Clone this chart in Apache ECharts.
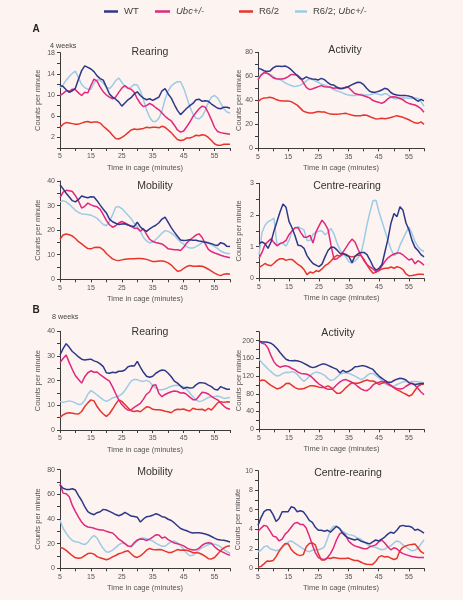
<!DOCTYPE html>
<html>
<head>
<meta charset="utf-8">
<script src="https://cdn.jsdelivr.net/npm/echarts@6/dist/echarts.min.js"></script>
<style>
html,body{margin:0;padding:0;background:#fdf3f0;}
#chart{width:463px;height:600px;}
</style>
</head>
<body>
<div id="chart"></div>
<script>
// ---- data ----
const minutes = [5,6,7,8,9,10,11,12,13,14,15,16,17,18,19,20,21,22,23,24,25,26,27,28,29,30,31,32,33,34,35,36,37,38,39,40,41,42,43,44,45,46,47,48,49,50,51,52,53,54,55,56,57,58,59,60];
const seriesNames = ['WT', 'Ubc+/-', 'R6/2', 'R6/2; Ubc+/-'];
const xTickLabels = [5, 15, 25, 35, 45, 55];

// A (4 weeks) - Rearing
const aRearingWT = [11.8,11.6,11.0,10.5,10.8,11.3,13.0,14.6,15.5,15.2, 14.9,14.4,13.6,13.1,12.8,11.5,10.2,9.6,9.2,8.7, 7.9,8.5,9.1,9.5,10.2,10.6,9.9,9.4,9.1,9.3, 9.0,9.3,9.6,10.8,11.2,10.2,9.4,8.2,7.1,6.3, 6.9,7.5,8.0,8.4,9.1,9.2,8.8,8.9,8.8,8.3, 7.9,7.5,7.4,7.7,7.7,7.5];
const aRearingUbc = [9.9,10.3,10.8,10.7,11.1,11.0,10.4,9.9,10.5,10.4, 11.8,13.0,12.6,11.5,10.6,10.0,9.6,9.3,9.6,10.5, 11.3,11.8,11.3,11.1,10.5,9.3,8.4,7.8,8.0,8.4, 8.1,7.6,7.2,6.6,6.0,5.5,5.1,4.3,3.4,3.0, 3.2,4.0,4.9,5.9,6.7,7.4,7.9,7.7,6.6,5.3, 3.9,3.1,2.9,2.8,2.7,2.6];
const aRearingR62 = [3.9,4.5,4.8,4.7,4.6,4.5,4.5,4.7,4.9,5.0, 4.8,4.9,4.9,4.7,4.1,3.6,3.1,2.4,1.8,1.7, 2.0,2.4,2.9,3.4,3.6,3.5,3.6,3.7,3.9,3.8, 3.9,3.9,3.8,4.1,3.9,3.4,2.9,2.2,1.6,1.4, 1.5,1.9,1.9,2.1,2.4,2.3,2.5,2.4,2.0,1.4, 0.8,0.5,0.5,0.7,0.7,0.7];
const aRearingR62Ubc = [11.4,11.9,12.8,13.5,14.1,14.5,13.2,12.0,11.4,11.1, 11.1,12.2,12.9,12.8,12.2,11.5,11.2,11.8,12.7,13.2, 12.4,11.6,11.2,11.5,12.0,11.9,10.8,9.1,7.2,5.8, 5.0,5.0,5.6,7.0,9.2,10.8,11.7,12.2,12.5,12.5, 11.3,9.6,7.8,6.4,5.6,5.5,6.0,7.1,8.6,9.6, 9.9,9.4,8.4,7.4,6.8,6.6];

// A - Activity
const aActivityWT = [66.7,66,64.6,64,64.5,67,68.4,68.4,68.2,68.6, 67.4,65.5,63,60.4,58,57.8,59.5,58.5,57.8,57.5, 57,58.3,57.2,55,53.2,52.8,51.2,50,50,50.5, 51.5,52.8,54,55,54.8,53,50,47.5,46.7,46.8, 47.5,48.6,50,49.2,46.5,45,44.4,44,43.9,43.9, 43.5,42.8,41,39.2,40.8,39.5];
const aActivityUbc = [57,61,63.2,62.6,61,58.8,57.9,57.8,57.8,58.4, 59.7,61.6,61.2,61,59,55,50.8,49,49.5,50.5, 51.4,52.2,51.3,51.1,51,50,50.4,49.6,49.6,51, 50.6,48.2,45.6,45,44.5,43.8,43,42,40,39, 38.3,37.5,38.8,41.2,42.8,43,42.5,41.5,40.5,38.5, 37.4,36.7,36.1,34.8,33,30];
const aActivityR62 = [38.9,41,42,42.2,42.6,42,40.6,39.8,39.4,39.4, 39.4,38.9,37.5,36,33.5,31,30,29.4,29.5,30.1, 30.6,30.2,30.2,29.3,28.5,28.3,28.3,28.5,28.9,29.2, 28.5,27.8,27.2,27.2,27.2,27.8,27.5,26.5,25.4,24.5, 24.6,25,24.6,25,25.6,26.4,27.2,26.5,25.8,24.8, 23.8,22.4,21.2,20.8,22,20];
const aActivityR62Ubc = [58,61,62.5,62.5,61.5,60,58.2,57.4,56.3,54.5, 53.3,52.3,51.4,52,52.6,53.8,56.2,58,57.5,56, 55,53.3,52.8,51.8,50.5,49,48,47.2,46.2,45, 44.5,44,43.9,44.2,45,44.6,44.4,44.6,45.2,45.8, 45,44.4,45.6,44.8,42.8,41.5,41.3,42,42.2,42, 41.7,41.7,42,41.6,39,35];

// A - Mobility
const aMobilityWT = [38.5,36.8,35,33.5,32,31.5,32.5,33.9,33.5,33.2, 33.6,33.5,32,30.2,28.5,27,24.5,23.4,22.8,22.3, 22.5,22.6,22.1,21.7,21.5,23.2,21.3,20.2,19.5,20.5, 21.3,22,23,24.5,25.3,23.2,21,19.2,17.5,16, 15.8,15.9,16.1,15.9,15.9,15.6,15.4,15.1,14.8,14.5, 14,13.8,14.9,14.5,13.4,13.3];
const aMobilityUbc = [33.2,35.5,36.2,36,35.7,34,31.8,29,29.7,31, 30.3,29.8,29.5,28.5,26.3,24,22.2,21.2,21.8,22.9, 23.5,22.9,22.2,21.5,20.8,20.8,19.6,20.6,18.3,16.3, 15.4,15,14.7,14.4,13.5,12.4,12.2,12,12,11.7, 13,14.8,16,17,18,18.5,17,14.4,12.2,11.3, 10.7,10.3,9.8,9.4,9.1,8.8];
const aMobilityR62 = [16.3,18,18.4,18.1,17.6,16.6,15.3,14.4,13.4,12.5, 12.4,12.9,13,12.9,12,10.5,9.4,8.3,7.8,7.6, 7.9,8.2,8.3,8.4,8.4,8.5,8.5,8.4,8.1,7.7, 7.2,7.2,7.4,7.4,7.2,6.7,5.8,4.5,3.3,3.5, 4.4,5.2,5.6,5.3,5.3,5.4,5.3,4.8,4.1,3.3, 2.5,1.9,1.5,2.1,2.3,2.1];
const aMobilityR62Ubc = [31.5,32,31.5,30.5,29.3,28,27.2,26.6,26.5,26.4, 26.1,25.5,24.8,23.5,22.3,21.8,23.6,26.2,29.3,29.6, 28.8,27.5,26.1,24.7,22.8,21.5,19.6,17,15.6,14.8, 15.3,16.2,17.4,18.8,19.8,19.5,18.8,17.9,16.5,15.2, 14.3,13.3,12.7,12.7,13.3,14,15,15.4,15.1,14, 13.3,12.5,11.5,10.9,10.5,10.5];

// A - Centre-rearing
const aCentreWT = [1.1,1.15,1.1,0.95,1.15,1.5,1.8,2.1,2.35,2.25, 1.8,1.6,1.35,1.05,1.03,0.95,0.72,0.58,0.47,0.42, 0.37,0.45,0.68,0.88,0.98,0.98,0.9,0.79,0.79,0.74, 0.69,0.5,0.7,0.78,0.82,0.82,0.75,0.58,0.38,0.26, 0.32,0.44,0.85,1.25,1.75,2.05,1.95,2.26,2.15,1.75, 1.53,1.2,0.98,0.88,0.75,0.68];
const aCentreUbc = [0.63,0.82,1.07,1.16,1.25,1.13,1.03,1.1,1.13,1.2, 1.38,1.5,1.6,1.6,1.44,1.3,1.3,1.36,1.12,1.47, 1.66,1.84,1.72,1.55,1.05,0.6,0.62,0.7,0.83,0.97, 1.12,1.24,1.15,0.92,0.73,0.56,0.44,0.36,0.3,0.21, 0.26,0.4,0.54,0.65,0.72,0.77,0.8,0.8,0.74,0.66, 0.58,0.62,0.46,0.56,0.5,0.42];
const aCentreR62 = [0.34,0.4,0.47,0.42,0.4,0.48,0.57,0.62,0.62,0.57, 0.6,0.6,0.52,0.44,0.38,0.28,0.12,0.2,0.17,0.24, 0.22,0.3,0.4,0.46,0.55,0.66,0.73,0.7,0.76,0.76, 0.7,0.68,0.7,0.74,0.72,0.6,0.42,0.28,0.16,0.2, 0.25,0.3,0.32,0.32,0.36,0.32,0.37,0.34,0.28,0.14, 0.08,0.09,0.11,0.13,0.13,0.12];
const aCentreR62Ubc = [0.74,1.45,1.68,1.79,1.84,1.9,1.05,1.1,1.1,1.02, 1.2,1.5,1.6,1.63,1.58,1.53,1.2,1.2,1.4,1.45, 1.5,1.5,1.38,1.45,1.58,1.4,1.12,0.9,0.78,0.68, 0.52,0.48,0.55,0.65,0.79,1.2,1.7,2.1,2.45,2.47, 2.1,1.8,1.5,1.2,0.92,0.72,0.78,1.05,1.25,1.45, 1.62,1.42,1.16,1.0,0.9,0.85];

// B (8 weeks) - Rearing
const bRearingWT = [30.4,33,35,33.5,31.8,30.8,29.6,28.7,28.4,28.6, 28.7,28,27.6,26.8,25.7,23.2,23,23.4,23.2,23.8, 23.8,24.3,25.6,26,25.9,27.8,25.5,23.4,21.8,21.4, 21.8,23,23.8,24.3,24.1,23,21.6,19.8,19,17.8, 16.8,17.3,17,17.1,18.3,19.1,19.1,18.9,18.2,17.6, 16.5,16.2,17.6,17,16.5,16.5];
const bRearingUbc = [27.3,29,30.4,27.3,24.5,22,20.5,19,21.6,23.2, 24,23.4,23.5,22.4,21.5,20.6,19.8,17.5,14.8,12.2, 10.3,9,8,8.2,9.2,10,10.8,12.5,14.5,15.5, 18,18.3,14.8,13.5,14.4,15,15.5,15.8,15.6,15, 15.1,14.4,13.3,12.3,12.3,13.8,15.3,15.1,14.6,13.6, 12.8,12.2,11,9.7,8.8,8.4];
const bRearingR62 = [5.1,6.1,6.8,7,6.8,6.6,6.5,7.5,9.5,11, 12.2,11.8,9.5,7.8,6.5,5.5,6.6,8.5,10.5,12.2, 11.6,10.3,9,7.8,7.5,7.8,7.4,8.4,9.4,9.2, 8.4,8.2,8.2,8,7.6,7.4,7,8,8.4,8.3, 8.5,8,7.7,8.8,8.4,8.3,8.4,7.8,8.8,8.1, 9.5,11,11.5,11.2,11.4,11.3];
const bRearingR62Ubc = [11.5,11.2,11.5,11.8,11.5,11,10.3,10.5,12,14.5, 16,15.2,14.2,13.2,12.2,11.6,12.2,13,13.4,13.7, 14.5,16,18,19.8,20.5,20.4,19.9,19.7,20.1,19.5, 18,17,16.3,16.3,16.6,17.2,17.7,18,18.1,18, 17.5,16.4,15,13.5,12.2,11.5,11.8,12.5,13.2,13.5, 13.6,13.8,13.4,12.8,13,13.2];

// B - Activity
const bActivityWT = [199,197,197,196,194,189,182,173,165,158, 155,154.5,155,154,152,148.5,145,141,139,141, 144,147,147,144,141,138,135,127,133,129, 131,135,141,141.5,143,143,141,138,135,127, 120,115,110,106,106,110,113,115,114,111, 105,103,101,102,103,103];
const bActivityUbc = [199,194,192,183,166,152,144,140,142,143, 141,137,134,129,126,125,124,121,115,108, 102,98,93,90,90,94,101,107,111,112, 109,106,102,96,91,88,87,92,100,104, 106,108,107,102,98,94,92,91,92,97, 101,104,99,92,84,78];
const bActivityR62 = [108,111,110,104,99,95,91,93,97,103, 104,99,94,91,91,92,95,98,98,97, 95,94,95,98,94,87,81,81,87,94, 100,105,104,104,106,109,111,109,109,106, 101,104,106,104,99,94,89,86,82,79, 75,78,88,97,101,102];
const bActivityR62Ubc = [158,150,143,136,130,124,120,122,126,128.5, 128,130,128,122,114,108,114,121,126,129, 127.5,125,121,114,110,112,118,124,127,127, 126,123,120,116,112,115,121,126,126,121, 116,109,103,99,97,96.5,101,104,107,108, 106,108,108,107,106,105];

// B - Mobility
const bMobilityWT = [67.6,65,64,64,64.5,63.5,59,55,50,46, 44.4,43.5,45.1,45.9,47.8,47.3,46.2,45,43.6,42.6, 43.6,45.4,44,42.4,42,41.5,37.5,40,41.9,42.2, 43,44.3,43.4,41.9,41.4,39.8,38.8,36.8,34.5,32.3, 31.3,30.5,29.3,28.6,28.9,28.8,28.4,27.8,27,25.8, 24.5,23.3,23,22.8,22.2,21.3];
const bMobilityUbc = [68.4,61,60.5,58,51,46,41.5,37.5,34.8,33.5, 33.2,32.5,31.6,31.1,31,30,29.2,28.6,26.4,23.6, 22,20,18,17.8,20.8,22.9,23.8,23.5,22.6,23.7, 25.3,27.2,27,24.5,25.4,23.3,21.9,20.5,19.9,19.2, 18.2,16.6,15.4,14.9,15,16.4,18.7,20.2,20.8,20.3, 17.5,15.4,13.9,12.7,11.5,10.5];
const bMobilityR62 = [17,16.2,14.5,12.3,10.2,8.5,8.1,8.6,10.3,12, 12.3,11.5,9.5,8.5,7.8,6.9,7.8,9.3,10.4,11.8, 12.5,13.6,14.2,11.8,9.6,8.8,10.1,12.2,14.7,16.1, 15.3,15,15.3,15,13.9,12.9,12.8,13.9,15.2,14.6, 14.9,14.6,13.9,12.6,12.6,12.4,11.2,9.6,7.8,7.6, 8.8,11.5,14.5,16.5,17.8,18];
const bMobilityR62Ubc = [39.2,32.5,28.5,25,22.5,21.6,21.2,19.9,19.3,21, 24.5,26.6,24.5,20,16,13.2,13.3,14.8,16.8,19, 20.5,20.2,18.2,17.2,19.5,22.3,24.3,24.6,24,23.2, 22,20.4,19,17.9,17.9,19.8,21.6,22.1,20.6,18.5, 15.5,12.2,10.2,10.5,12.6,15,16.8,18,19.3,19.7, 19.6,18.8,17.3,15.4,13.6,12.2];

// B - Centre-rearing
const bCentreWT = [4.4,5.2,5.8,6,6,5.5,4.8,5.1,5.8,5.8, 5.8,6.3,6.2,5.8,5.9,5.8,5.4,4.9,4.7,4.2, 3.9,3.9,3.8,3.9,3.7,4,4.3,4.1,3.6,3.3, 3.1,3,2.9,3,2.8,2.7,2.6,2.5,2.7,2.9, 2.8,3,3.2,3.5,3.7,3.6,3.9,4.3,4.4,4.3, 4.3,4.2,3.9,4,3.8,3.6];
const bCentreUbc = [3.8,4.1,4.4,4.3,3.8,3.3,3.2,2.8,3,3.5, 3.8,4.2,4.6,4.7,4.5,4.5,4.1,3.3,2.4,1.6, 1.1,0.95,0.9,1.1,1.5,2.1,2.9,3.5,3.7,3.4, 2.8,2.5,2.3,2.2,2.1,2,2,2.2,2.3,2.4, 2.7,2.9,2.6,2.2,1.9,2.1,2,1.7,1.5,1.4, 1.3,1.2,1.15,1.1,1.1,1.1];
const bCentreR62 = [0.1,0.2,0.45,0.75,0.72,0.8,1.2,1.75,2.2,2.55, 2.5,1.95,1.6,1.4,1.3,1.4,2.2,2.55,2.6,2.4, 1.5,0.85,0.85,1.05,1,1.1,1.05,1,1,1, 1.05,0.9,0.8,0.8,0.65,0.5,0.42,0.4,0.4,0.7, 1.15,1.3,1.15,1.2,1.05,0.9,1,1.8,2.15,2.3, 2.4,2.45,2.5,2.1,1.7,1.5];
const bCentreR62Ubc = [1.7,1.85,2.2,2.3,2,1.9,1.8,1.9,2.1,2.4, 2.7,2.8,2.6,2.4,2.2,2,1.8,1.7,1.85,1.9, 1.9,2,2.2,3,3.9,4.3,4.3,4.1,3.8,3.6, 3.45,3.4,3.3,3.1,3,2.75,2.5,2.3,2.2,2.15, 2,1.9,1.95,2.2,2.3,2.6,2.8,2.7,2.4,2.2, 1.95,1.8,1.85,2.05,2.5,2.9];

// ---- styling / layout ----
const colors = ['#2e3888', '#e0287c', '#e5352e', '#9dcbe6'];
const FONT = 'Liberation Sans, Arial, Helvetica, sans-serif';
const AXIS_COLOR = '#3c3c3c';
const LABEL_COLOR = '#555';

const panels = [
  {title: 'Rearing', box: [60, 52.6, 170, 95.4], yMax: 18, yStep: 2, show: v => (v - 2) % 4 === 0, tpos: [150, 52], nameGap: 18.5, data: [aRearingWT, aRearingUbc, aRearingR62, aRearingR62Ubc]},
  {title: 'Activity', box: [258, 52.3, 166, 96], yMax: 80, yStep: 10, show: v => v % 20 === 0, tpos: [345, 50], nameGap: 15.5, data: [aActivityWT, aActivityUbc, aActivityR62, aActivityR62Ubc]},
  {title: 'Mobility', box: [60, 181, 170, 98.3], yMax: 40, yStep: 5, show: v => v % 10 === 0, tpos: [155, 186], nameGap: 18.5, data: [aMobilityWT, aMobilityUbc, aMobilityR62, aMobilityR62Ubc]},
  {title: 'Centre-rearing', box: [259, 183.4, 165, 95], yMax: 3, yStep: 0.5, show: v => Number.isInteger(v), tpos: [347, 186], nameGap: 16, data: [aCentreWT, aCentreUbc, aCentreR62, aCentreR62Ubc]},
  {title: 'Rearing', box: [60, 331.3, 170, 98.7], yMax: 40, yStep: 5, show: v => v % 10 === 0, tpos: [150, 332], nameGap: 18.5, data: [bRearingWT, bRearingUbc, bRearingR62, bRearingR62Ubc]},
  {title: 'Activity', box: [259, 331.7, 165, 97.6], yMax: 220, yStep: 20, show: v => v % 40 === 0, tpos: [338, 333.5], nameGap: 16.5, data: [bActivityWT, bActivityUbc, bActivityR62, bActivityR62Ubc]},
  {title: 'Mobility', box: [60, 469.7, 170, 98.6], yMax: 80, yStep: 10, show: v => v % 20 === 0, tpos: [155, 472], nameGap: 18.5, data: [bMobilityWT, bMobilityUbc, bMobilityR62, bMobilityR62Ubc]},
  {title: 'Centre-rearing', box: [258, 470.7, 166, 97.6], yMax: 10, yStep: 1, show: v => v % 2 === 0, tpos: [348, 473], nameGap: 16, data: [bCentreWT, bCentreUbc, bCentreR62, bCentreR62Ubc]}
];

const grids = [], xAxes = [], yAxes = [], series = [], graphics = [];
panels.forEach((p, i) => {
  grids.push({left: p.box[0], top: p.box[1], width: p.box[2], height: p.box[3], containLabel: false, outerBoundsMode: 'none'});
  xAxes.push({
    type: 'value', gridIndex: i, min: 5, max: 60, interval: 5,
    name: 'Time in cage (minutes)', nameLocation: 'middle', nameGap: 15.5, nameMoveOverlap: false,
    nameTextStyle: {fontFamily: FONT, fontSize: 7.5, color: LABEL_COLOR},
    axisLine: {show: true, onZero: false, lineStyle: {color: AXIS_COLOR, width: 1}},
    axisTick: {show: true, inside: false, length: 3, lineStyle: {color: AXIS_COLOR}},
    axisLabel: {fontFamily: FONT, fontSize: 7, color: LABEL_COLOR, margin: 5, showMinLabel: true, showMaxLabel: true,
      formatter: v => (xTickLabels.indexOf(v) >= 0 ? String(v) : '')},
    splitLine: {show: false}
  });
  yAxes.push({
    type: 'value', gridIndex: i, min: 0, max: p.yMax, interval: p.yStep,
    name: 'Counts per minute', nameLocation: 'middle', nameGap: p.nameGap, nameMoveOverlap: false,
    nameTextStyle: {fontFamily: FONT, fontSize: 7.5, color: LABEL_COLOR},
    axisLine: {show: true, onZero: false, lineStyle: {color: AXIS_COLOR, width: 1}},
    axisTick: {show: true, inside: false, length: 3, lineStyle: {color: AXIS_COLOR}},
    axisLabel: {fontFamily: FONT, fontSize: 7, color: LABEL_COLOR, margin: 5, showMinLabel: true, showMaxLabel: true,
      formatter: v => (p.show(v) ? String(v) : '')},
    splitLine: {show: false}
  });
  p.data.forEach((arr, g) => {
    series.push({
      type: 'line', name: seriesNames[g], xAxisIndex: i, yAxisIndex: i,
      data: minutes.map((m, k) => [m, arr[k]]),
      symbol: 'none', showSymbol: false, smooth: false, animation: false,
      z: 5 - g,
      lineStyle: {color: colors[g], width: 1.5},
      itemStyle: {color: colors[g]}
    });
  });
  graphics.push({type: 'text', x: p.tpos[0], y: p.tpos[1], silent: true,
    style: {text: p.title, fontFamily: FONT, fontSize: 10.5, fill: '#333', align: 'center', verticalAlign: 'middle'}});
});

graphics.push(
  {type: 'text', x: 36, y: 29, style: {text: 'A', fontFamily: FONT, fontSize: 10, fontWeight: 'bold', fill: '#222', align: 'center', verticalAlign: 'middle'}},
  {type: 'text', x: 50, y: 46, style: {text: '4 weeks', fontFamily: FONT, fontSize: 7.2, fill: '#444', align: 'left', verticalAlign: 'middle'}},
  {type: 'text', x: 36, y: 310, style: {text: 'B', fontFamily: FONT, fontSize: 10, fontWeight: 'bold', fill: '#222', align: 'center', verticalAlign: 'middle'}},
  {type: 'text', x: 52, y: 317.5, style: {text: '8 weeks', fontFamily: FONT, fontSize: 7.2, fill: '#444', align: 'left', verticalAlign: 'middle'}}
);

const legendPos = [[104, 14], [155, 15], [239, 14], [295, 12]];
const legends = seriesNames.map((n, g) => ({
  data: [n], left: legendPos[g][0], top: 6.5, icon: 'rect', itemWidth: legendPos[g][1], itemHeight: 2.5,
  selectedMode: false, padding: 0,
  textStyle: {fontFamily: FONT, fontSize: 9.5, color: '#444', padding: [0, 0, 0, 1],
    rich: {i: {fontStyle: 'italic', fontFamily: FONT, fontSize: 9.5, color: '#444'}}},
  formatter: name => name === 'Ubc+/-' ? '{i|Ubc+/-}' : (name === 'R6/2; Ubc+/-' ? 'R6/2; {i|Ubc+/-}' : name)
}));

const chart = echarts.init(document.getElementById('chart'), null, {renderer: 'canvas'});
chart.setOption({
  backgroundColor: '#fdf3f0',
  animation: false,
  legend: legends,
  grid: grids,
  xAxis: xAxes,
  yAxis: yAxes,
  series: series,
  graphic: graphics
});
</script>
</body>
</html>
